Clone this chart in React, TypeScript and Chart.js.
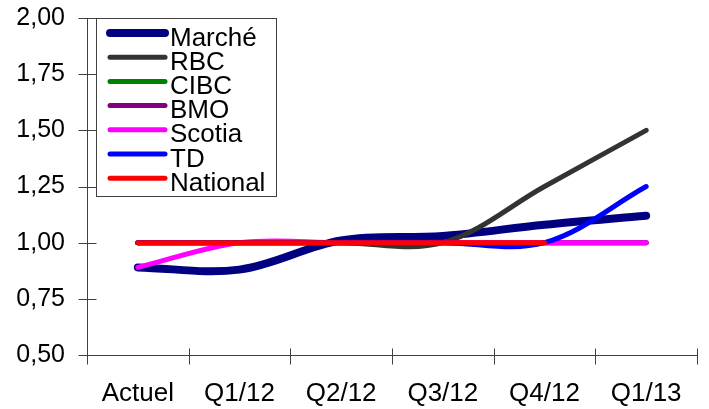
import { useEffect, useRef } from "react";
import { Chart, registerables } from "chart.js";

Chart.register(...registerables);

const categories = ["Actuel", "Q1/12", "Q2/12", "Q3/12", "Q4/12", "Q1/13"];
const seriesNames = ["Marché", "RBC", "CIBC", "BMO", "Scotia", "TD", "National"];
const marche = [0.89, 0.88, 1.01, 1.03, 1.08, 1.12];
const rbc = [1.0, 1.0, 1.0, 1.0, 1.25, 1.5];
const cibc = [1.0, 1.0, 1.0, 1.0, 1.0, 1.0];
const bmo = [1.0, 1.0, 1.0, 1.0, 1.0, 1.0];
const scotia = [0.89, 1.0, 1.0, 1.0, 1.0, 1.0];
const td = [1.0, 1.0, 1.0, 1.0, 1.0, 1.25];
const national = [1.0, 1.0, 1.0, 1.0, 1.0, null];
const seriesValues = [marche, rbc, cibc, bmo, scotia, td, national];
const seriesColors = ["#000080", "#333333", "#008000", "#800080", "#FF00FF", "#0000FF", "#FF0000"];
const seriesWidths = [8, 5, 5, 5, 5, 5, 5];
const yMin = 0.5;
const yMax = 2.0;
const yStep = 0.25;

const FONT = "'Liberation Sans', Arial, sans-serif";

const axesPlugin = {
  id: "axesDraw",
  beforeDatasetsDraw(chart: any) {
    const ctx = chart.ctx;
    const { left, right, top, bottom } = chart.chartArea;
    const xl = Math.round(left) + 0.5;
    const yb = Math.round(bottom) + 0.5;
    ctx.save();
    ctx.strokeStyle = "#404040";
    ctx.lineWidth = 1;
    ctx.beginPath();
    ctx.moveTo(xl, Math.round(top));
    ctx.lineTo(xl, yb);
    ctx.moveTo(xl, yb);
    ctx.lineTo(Math.round(right) + 1, yb);
    const ys = chart.scales.y;
    ys.ticks.forEach((t: any) => {
      const py = Math.round(ys.getPixelForValue(t.value)) + 0.5;
      ctx.moveTo(xl - 9, py);
      ctx.lineTo(xl + 9, py);
    });
    const n = categories.length;
    for (let i = 0; i <= n; i++) {
      const px = Math.round(left + (i * (right - left)) / n) + 0.5;
      ctx.moveTo(px, yb - 7);
      ctx.lineTo(px, yb + 9);
    }
    ctx.stroke();
    ctx.restore();
  },
};

const legendPlugin = {
  id: "boxLegend",
  afterDatasetsDraw(chart: any) {
    const ctx = chart.ctx;
    ctx.save();
    ctx.fillStyle = "#ffffff";
    ctx.fillRect(96.5, 18.5, 180, 178);
    ctx.strokeStyle = "#404040";
    ctx.lineWidth = 1;
    ctx.strokeRect(96.5, 18.5, 180, 178);
    ctx.font = `26px ${FONT}`;
    ctx.textBaseline = "alphabetic";
    ctx.textAlign = "left";
    seriesNames.forEach((name, i) => {
      const cy = 33 + i * 24.2;
      ctx.strokeStyle = seriesColors[i];
      ctx.lineWidth = seriesWidths[i];
      ctx.lineCap = "round";
      ctx.beginPath();
      ctx.moveTo(110, cy);
      ctx.lineTo(165, cy);
      ctx.stroke();
      ctx.fillStyle = "#000000";
      ctx.fillText(name, 170, cy + 12.5);
    });
    ctx.restore();
  },
};

export default function App() {
  const ref = useRef<HTMLCanvasElement | null>(null);
  useEffect(() => {
    if (!ref.current) return;
    const datasets = seriesNames.map((name, i) => ({
      label: name,
      data: seriesValues[i],
      borderColor: seriesColors[i],
      backgroundColor: seriesColors[i],
      borderWidth: seriesWidths[i],
      pointRadius: 0,
      pointHoverRadius: 0,
      tension: 0.35,
      borderCapStyle: "round" as const,
      borderJoinStyle: "round" as const,
      fill: false,
      order: seriesNames.length - 1 - i,
    }));
    const chart = new Chart(ref.current, {
      type: "line",
      data: { labels: categories, datasets },
      options: {
        animation: false,
        responsive: false,
        devicePixelRatio: 1,
        layout: { padding: { top: 18, right: 12, left: 0, bottom: 0 } },
        plugins: { legend: { display: false }, tooltip: { enabled: false } },
        scales: {
          x: {
            type: "category",
            offset: true,
            grid: { display: false, drawTicks: false },
            border: { display: false },
            ticks: {
              color: "#000",
              font: { family: FONT, size: 26 },
              padding: 23,
              maxRotation: 0,
              autoSkip: false,
            },
            afterFit: (s: any) => {
              s.height = 54;
              s.paddingLeft = 0;
              s.paddingRight = 0;
              s.paddingTop = 0;
              s.paddingBottom = 0;
            },
          },
          y: {
            min: yMin,
            max: yMax,
            grid: { display: false, drawTicks: false },
            border: { display: false },
            ticks: {
              stepSize: yStep,
              color: "#000",
              font: { family: FONT, size: 25 },
              padding: 22,
              callback: (v: any) => Number(v).toFixed(2).replace(".", ","),
            },
            afterFit: (s: any) => {
              s.width = 87;
              s.paddingTop = 0;
              s.paddingBottom = 0;
              s.paddingLeft = 0;
              s.paddingRight = 0;
            },
          },
        },
      },
      plugins: [axesPlugin, legendPlugin],
    });
    return () => chart.destroy();
  }, []);
  return (
    <div style={{ position: "absolute", left: 0, top: 0, width: 709, height: 409, background: "#fff" }}>
      <canvas ref={ref} width={709} height={409} />
    </div>
  );
}
